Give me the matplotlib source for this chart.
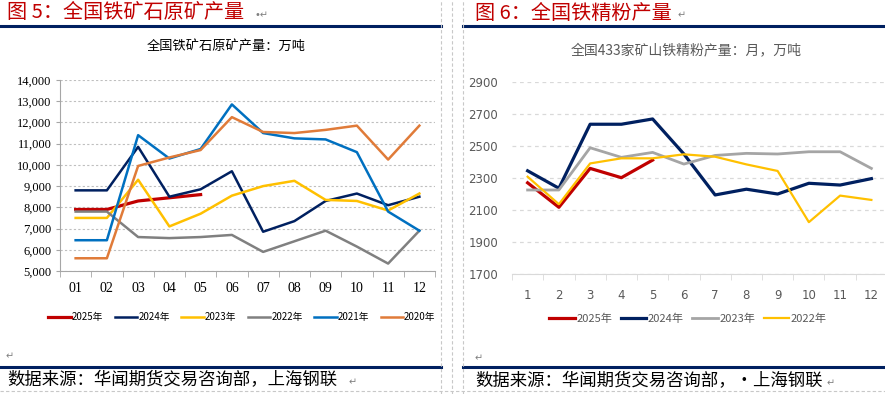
"""
Iron ore output charts: raw ore (fig 5) and 433-mine concentrate (fig 6).
"""

import matplotlib.pyplot as plt
from matplotlib.lines import Line2D

plt.rcParams["font.family"] = ["Noto Sans CJK SC", "DejaVu Sans"]

# ---- data: figure 5, national raw iron ore output (10k t) ----
months_left = ["01", "02", "03", "04", "05", "06", "07", "08", "09", "10", "11", "12"]
ore_2025 = [7900, 7900, 8300, 8450, 8600]
ore_2024 = [8800, 8800, 10850, 8500, 8850, 9700, 6850, 7350, 8300, 8650, 8100, 8500]
ore_2023 = [7500, 7500, 9300, 7100, 7700, 8550, 9000, 9250, 8350, 8300, 7850, 8650]
ore_2022 = [7800, 7800, 6600, 6550, 6600, 6700, 5900, 6400, 6900, 6150, 5350, 6900]
ore_2021 = [6450, 6450, 11400, 10300, 10750, 12850, 11500, 11250, 11200, 10600, 7800, 6900]
ore_2020 = [5600, 5600, 9950, 10350, 10700, 12250, 11550, 11500, 11650, 11850, 10250, 11850]

# ---- data: figure 6, 433 mines iron concentrate output (10k t) ----
months_right = ["1", "2", "3", "4", "5", "6", "7", "8", "9", "10", "11", "12"]
conc_2025 = [2270, 2117, 2360, 2302, 2412]
conc_2024 = [2345, 2236, 2636, 2636, 2669, 2450, 2194, 2230, 2200, 2267, 2256, 2296]
conc_2023 = [2225, 2225, 2489, 2429, 2460, 2387, 2441, 2454, 2450, 2464, 2464, 2360]
conc_2022 = [2308, 2136, 2391, 2423, 2423, 2448, 2433, 2385, 2344, 2024, 2190, 2163]

RED = "#C00000"
NAVY = "#002060"
W, H = 885, 394


def fx(px):
    return px / W


def fy(py):
    return 1 - py / H


fig = plt.figure(figsize=(W / 100, H / 100), dpi=100)

# ---- frame decorations ----
for x0, x1 in [(0, 441), (463, 885)]:
    fig.add_artist(Line2D([fx(x0), fx(x1)], [fy(26), fy(26)], color=NAVY, lw=2.2))
    fig.add_artist(Line2D([fx(x0), fx(x1)], [fy(367), fy(367)], color=NAVY, lw=2.2))
for xv in [441, 452, 463]:
    fig.add_artist(Line2D([fx(xv), fx(xv)], [0, 1], color="#C8C8C8", lw=0.8, ls=(0, (3, 2))))
fig.add_artist(Line2D([0, 1], [fy(391), fy(391)], color="#C8C8C8", lw=0.8, ls=(0, (3, 2))))

title_kw = dict(color=RED, fontsize=14.5, va="center", ha="left")
fig.text(fx(7), fy(13), "图 5：全国铁矿石原矿产量", **title_kw)
fig.text(fx(254), fy(15), "•↵", color="#808080", fontsize=7, va="center",
         family=["DejaVu Sans"])
fig.text(fx(475), fy(13), "图 6：全国铁精粉产量", **title_kw)
fig.text(fx(678), fy(15), "↵", color="#808080", fontsize=7, va="center",
         family=["DejaVu Sans"])

src_kw = dict(color="#000000", fontsize=12.5, va="center", ha="left")
fig.text(fx(7), fy(380), "数据来源：华闻期货交易咨询部，上海钢联", **src_kw)
fig.text(fx(475), fy(381), "数据来源：华闻期货交易咨询部，•上海钢联", **src_kw)
for xp, yp in [(349, 382), (827, 383), (6, 356), (475, 358)]:
    fig.text(fx(xp), fy(yp), "↵", color="#808080", fontsize=7, va="center",
             family=["DejaVu Sans"])

# ---- left chart ----
ax1 = fig.add_axes([fx(60), fy(271), fx(435) - fx(60), fy(80) - fy(271)])
xl = list(range(1, 13))
left_series = [
    ("2025年", ore_2025, RED, 2.3),
    ("2024年", ore_2024, NAVY, 1.8),
    ("2023年", ore_2023, "#FFC000", 1.8),
    ("2022年", ore_2022, "#808080", 1.8),
    ("2021年", ore_2021, "#0070C0", 1.8),
    ("2020年", ore_2020, "#E07B39", 1.8),
]
for label, vals, color, lw in left_series:
    ax1.plot(xl[:len(vals)], vals, color=color, lw=lw, label=label, zorder=3)

ax1.set_xlim(0.5, 12.5)
ax1.set_ylim(5000, 14000)
ax1.set_yticks(range(5000, 14001, 1000))
ax1.set_yticklabels([f"{v:,}" for v in range(5000, 14001, 1000)],
                    family=["Liberation Serif"], fontsize=9)
ax1.set_xticks(xl)
ax1.set_xticklabels(months_left, family=["Liberation Serif"], fontsize=10)
ax1.set_xticks([i + 0.5 for i in range(0, 13)], minor=True)
ax1.tick_params(axis="x", which="major", length=0, pad=8)
ax1.tick_params(axis="x", which="minor", length=4, color="#A6A6A6", direction="out")
ax1.tick_params(axis="y", length=3, color="#A6A6A6", pad=3)
ax1.grid(axis="y", color="#BFBFBF", ls=(0, (2, 2)), lw=0.8)
for s in ["top", "right"]:
    ax1.spines[s].set_visible(False)
for s in ["left", "bottom"]:
    ax1.spines[s].set_color("#A6A6A6")
fig.text(fx(226), fy(47), "全国铁矿石原矿产量：万吨", fontsize=9.5, color="#000000",
         ha="center", va="center")
ax1.legend(loc="center", bbox_to_anchor=(fx(242), fy(317)), bbox_transform=fig.transFigure,
           ncol=6, frameon=False, fontsize=7, handlelength=2.3, handletextpad=0.1,
           columnspacing=1.2)

# ---- right chart ----
ax2 = fig.add_axes([fx(512), fy(274), fx(887) - fx(512), fy(82) - fy(274)])
right_series = [
    ("2025年", conc_2025, RED, 2.3),
    ("2024年", conc_2024, NAVY, 2.3),
    ("2023年", conc_2023, "#A5A5A5", 2.0),
    ("2022年", conc_2022, "#FFC000", 1.6),
]
for label, vals, color, lw in right_series:
    ax2.plot(xl[:len(vals)], vals, color=color, lw=lw, label=label, zorder=3)

ax2.set_xlim(0.5, 12.5)
ax2.set_ylim(1700, 2900)
ax2.set_yticks(range(1700, 2901, 200))
ax2.set_yticklabels([str(v) for v in range(1700, 2901, 200)], fontsize=8.5,
                    color="#595959", family=["DejaVu Sans"])
ax2.set_xticks(xl)
ax2.set_xticklabels(months_right, fontsize=8.5, color="#595959", family=["DejaVu Sans"])
ax2.set_xticks([i + 0.5 for i in range(0, 13)], minor=True)
ax2.tick_params(axis="x", which="major", length=0, pad=11)
ax2.tick_params(axis="x", which="minor", length=4, color="#D9D9D9", direction="out")
ax2.tick_params(axis="y", length=0, pad=10)
ax2.grid(axis="y", color="#D9D9D9", ls=(0, (3, 3)), lw=0.9)
for s in ["top", "right", "left"]:
    ax2.spines[s].set_visible(False)
ax2.spines["bottom"].set_color("#D9D9D9")
fig.text(fx(686), fy(50), "全国433家矿山铁精粉产量：月，万吨", fontsize=10, color="#595959",
         ha="center", va="center")
ax2.legend(loc="center", bbox_to_anchor=(fx(688), fy(319)), bbox_transform=fig.transFigure,
           ncol=4, frameon=False, fontsize=8, handlelength=2.3, handletextpad=0.1,
           columnspacing=0.8, labelcolor="#595959")

fig.savefig("out.png", dpi=100)
